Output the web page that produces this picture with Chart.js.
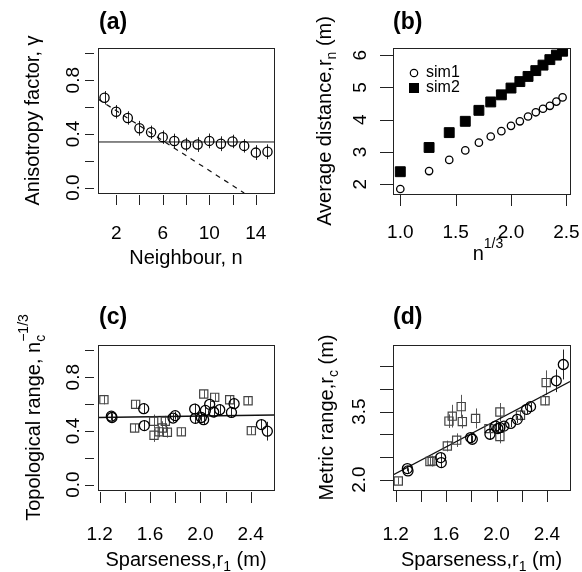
<!DOCTYPE html>
<html lang="en">
<head>
  <meta charset="UTF-8">
  <title>Anisotropy and range panels</title>
  <script src="https://cdn.jsdelivr.net/npm/chart.js"></script>
  <style>
    body { margin: 0; padding: 0; background: #ffffff; }
    #wrap { position: relative; width: 582px; height: 572px; }
    #wrap canvas { position: absolute; }
  </style>
</head>
<body>

<div id="wrap">
  <canvas id="panelA" width="291" height="286" style="left:0;top:0"></canvas>
  <canvas id="panelB" width="291" height="286" style="left:291px;top:0"></canvas>
  <canvas id="panelC" width="291" height="286" style="left:0;top:286px"></canvas>
  <canvas id="panelD" width="291" height="286" style="left:291px;top:286px"></canvas>
</div>

<script>
  // ---- panel (a): anisotropy factor vs neighbour
  const neighbourN = [1, 2, 3, 4, 5, 6, 7, 8, 9, 10, 11, 12, 13, 14, 15];
  const anisotropy = [0.669, 0.565, 0.519, 0.442, 0.412, 0.376, 0.347, 0.321, 0.321, 0.348, 0.327, 0.344, 0.311, 0.261, 0.267];
  const anisotropyErr = [0.05, 0.05, 0.05, 0.055, 0.05, 0.05, 0.055, 0.05, 0.055, 0.055, 0.055, 0.05, 0.05, 0.055, 0.055];
  const anisotropyLevel = 0.34;
  const anisotropyTrendX = [0.44, 13.0];
  const anisotropyTrendY = [0.66, -0.04];

  // ---- panel (b): average distance vs n^(1/3)
  const cubeRootN = [1.000, 1.260, 1.442, 1.587, 1.710, 1.817, 1.913, 2.000, 2.080, 2.154, 2.224, 2.289, 2.351, 2.410, 2.466];
  const sim1Dist = [1.855, 2.41, 2.756, 3.05, 3.29, 3.48, 3.646, 3.81, 3.95, 4.10, 4.23, 4.34, 4.43, 4.56, 4.69];
  const sim2Dist = [2.39, 3.14, 3.60, 3.95, 4.29, 4.55, 4.77, 4.98, 5.18, 5.34, 5.52, 5.69, 5.86, 6.00, 6.12];

  // ---- panel (c): topological range vs sparseness
  const topoCircX = [1.293, 1.298, 1.55, 1.555, 1.783, 1.80, 1.955, 1.96, 2.008, 2.026, 2.04, 2.074, 2.106, 2.154, 2.247, 2.268, 2.485, 2.532];
  const topoCircY = [0.51, 0.50, 0.566, 0.44, 0.496, 0.514, 0.563, 0.494, 0.50, 0.484, 0.553, 0.598, 0.541, 0.558, 0.538, 0.603, 0.447, 0.398];
  const topoCircErr = [0.03, 0.03, 0.04, 0.04, 0.03, 0.03, 0.04, 0.04, 0.03, 0.04, 0.04, 0.04, 0.04, 0.04, 0.04, 0.04, 0.04, 0.07];
  const topoSqX = [1.234, 1.486, 1.478, 1.629, 1.632, 1.672, 1.698, 1.722, 1.738, 1.849, 2.027, 2.114, 2.233, 2.379, 2.405];
  const topoSqY = [0.633, 0.598, 0.422, 0.472, 0.368, 0.393, 0.422, 0.472, 0.39, 0.393, 0.675, 0.65, 0.632, 0.625, 0.402];
  const topoSqErr = [0.035, 0.03, 0.03, 0.05, 0.05, 0.04, 0.05, 0.04, 0.04, 0.03, 0.03, 0.03, 0.03, 0.03, 0.03];
  const topoFitX = [1.187, 2.585];
  const topoFitY = [0.500, 0.518];

  // ---- panel (d): metric range vs sparseness
  const metricCircX = [1.293, 1.298, 1.557, 1.562, 1.795, 1.808, 1.948, 1.993, 2.011, 2.027, 2.059, 2.112, 2.165, 2.239, 2.27, 2.474, 2.53];
  const metricCircY = [2.243, 2.19, 2.485, 2.375, 2.926, 2.89, 3.0, 3.18, 3.125, 3.147, 3.18, 3.24, 3.33, 3.55, 3.61, 4.18, 4.54];
  const metricCircErr = [0.06, 0.06, 0.1, 0.12, 0.1, 0.08, 0.12, 0.1, 0.12, 0.1, 0.08, 0.08, 0.08, 0.1, 0.08, 0.25, 0.33];
  const metricSqX = [1.221, 1.472, 1.49, 1.61, 1.623, 1.649, 1.684, 1.72, 1.729, 1.834, 1.94, 2.027, 2.027, 2.19, 2.385, 2.394];
  const metricSqY = [1.97, 2.40, 2.41, 2.74, 3.29, 3.40, 2.87, 3.61, 3.28, 3.35, 3.125, 3.49, 2.95, 3.42, 3.74, 4.14];
  const metricSqErr = [0.08, 0.1, 0.12, 0.12, 0.15, 0.25, 0.15, 0.26, 0.15, 0.22, 0.1, 0.2, 0.15, 0.12, 0.1, 0.27];
  const metricFitX = [1.179, 2.583];
  const metricFitY = [2.10, 4.165];

  const FONT = '"Liberation Sans", Arial, sans-serif';
  const W = 291, H = 286;

  const pts = (xs, ys) => xs.map((x, i) => ({ x: x, y: ys[i] }));

  // text with sub/superscripts: parts = [text, kind, extra]
  function partWidth(ctx, p, fs) {
    if (!p[1]) { ctx.font = fs + 'px ' + FONT; return ctx.measureText(p[0]).width; }
    ctx.font = Math.round(fs * 0.7) + 'px ' + FONT;
    if (p[1] === 'bp') return Math.max(ctx.measureText(p[0]).width, ctx.measureText(p[2]).width);
    return ctx.measureText(p[0]).width;
  }

  function drawRich(ctx, parts, cx, cy, fs) {
    const ws = parts.map(p => partWidth(ctx, p, fs));
    let x = cx - ws.reduce((a, b) => a + b, 0) / 2;
    const base = cy + fs * 0.35;
    const small = Math.round(fs * 0.7) + 'px ' + FONT;
    ctx.textAlign = 'left';
    ctx.textBaseline = 'alphabetic';
    parts.forEach((p, i) => {
      if (!p[1]) { ctx.font = fs + 'px ' + FONT; ctx.fillText(p[0], x, base); }
      else if (p[1] === 'b') { ctx.font = small; ctx.fillText(p[0], x, base + fs * 0.25); }
      else if (p[1] === 'p') { ctx.font = small; ctx.fillText(p[0], x, base - fs * 0.6); }
      else { ctx.font = small; ctx.fillText(p[0], x, base + fs * 0.25); ctx.fillText(p[2], x, base - fs * 0.6); }
      x += ws[i];
    });
  }

  // R style axes, box, error bars and legend
  const rAxes = {
    id: 'rAxes',
    beforeDatasetsDraw(chart, args, o) {
      const ctx = chart.ctx, sx = chart.scales.x, sy = chart.scales.y, a = chart.chartArea;
      ctx.save();
      ctx.beginPath();
      ctx.rect(a.left, a.top, a.right - a.left, a.bottom - a.top);
      ctx.clip();
      (o.errors || []).forEach(e => {
        ctx.strokeStyle = e.color;
        ctx.lineWidth = 1;
        ctx.beginPath();
        e.x.forEach((xv, i) => {
          const px = Math.round(sx.getPixelForValue(xv)) + 0.5;
          ctx.moveTo(px, sy.getPixelForValue(e.y[i] - e.e[i]));
          ctx.lineTo(px, sy.getPixelForValue(e.y[i] + e.e[i]));
        });
        ctx.stroke();
      });
      ctx.restore();
    },
    afterDraw(chart, args, o) {
      const ctx = chart.ctx, sx = chart.scales.x, sy = chart.scales.y, a = chart.chartArea;
      ctx.save();
      ctx.strokeStyle = '#222';
      ctx.lineWidth = 1;
      ctx.strokeRect(Math.round(a.left) + 0.5, Math.round(a.top) + 0.5,
        Math.round(a.right - a.left), Math.round(a.bottom - a.top));

      ctx.beginPath();
      o.yTicks.forEach(v => {
        const py = Math.round(sy.getPixelForValue(v)) + 0.5;
        ctx.moveTo(o.yTickX[0], py);
        ctx.lineTo(o.yTickX[1], py);
      });
      o.xTicks.forEach(v => {
        const px = Math.round(sx.getPixelForValue(v)) + 0.5;
        ctx.moveTo(px, o.xTickY[0]);
        ctx.lineTo(px, o.xTickY[1]);
      });
      ctx.stroke();

      ctx.fillStyle = '#000';
      o.yLabels.forEach(v => {
        ctx.save();
        ctx.translate(o.yLabelX, sy.getPixelForValue(v));
        ctx.rotate(-Math.PI / 2);
        drawRich(ctx, [[v.toFixed(o.yDec), '']], 0, 0, 19);
        ctx.restore();
      });
      o.xLabels.forEach(v => {
        drawRich(ctx, [[v.toFixed(o.xDec), '']], sx.getPixelForValue(v), o.xLabelY, 19);
      });

      // axis titles
      drawRich(ctx, o.xTitle, o.xTitleX || (a.left + a.right) / 2, o.xTitleY, 20);
      ctx.save();
      ctx.translate(o.yTitleX, (a.top + a.bottom) / 2);
      ctx.rotate(-Math.PI / 2);
      drawRich(ctx, o.yTitle, 0, 0, 20);
      ctx.restore();

      // panel letter
      ctx.font = 'bold 23px ' + FONT;
      ctx.textAlign = 'left';
      ctx.textBaseline = 'middle';
      ctx.fillText(o.letter, o.letterX, o.letterY);

      if (o.legend) {
        o.legend.forEach(l => {
          ctx.strokeStyle = '#000';
          ctx.fillStyle = '#000';
          if (l.shape === 'circle') {
            ctx.lineWidth = 1.2;
            ctx.beginPath();
            ctx.arc(l.x, l.y, 3.7, 0, Math.PI * 2);
            ctx.stroke();
          } else {
            ctx.fillRect(l.x - 5, l.y - 5, 10, 10);
          }
          ctx.font = '16px ' + FONT;
          ctx.textBaseline = 'middle';
          ctx.fillText(l.text, l.x + 12, l.y);
        });
      }
      ctx.restore();
    }
  };

  function makePanel(id, datasets, xr, yr, box, ax) {
    return new Chart(document.getElementById(id), {
      type: 'scatter',
      data: { datasets: datasets },
      options: {
        responsive: false,
        animation: false,
        events: [],
        layout: { padding: { left: 0, top: box.t, right: W - box.r, bottom: 0 } },
        plugins: { legend: { display: false }, tooltip: { enabled: false }, rAxes: ax },
        scales: {
          x: {
            type: 'linear', min: xr[0], max: xr[1],
            ticks: { display: false }, grid: { display: false }, border: { display: false },
            afterFit: s => { s.height = H - box.b; }
          },
          y: {
            type: 'linear', min: yr[0], max: yr[1],
            ticks: { display: false }, grid: { display: false }, border: { display: false },
            afterFit: s => { s.width = box.l; }
          }
        }
      },
      plugins: [rAxes]
    });
  }

  const lineSet = (xs, ys, extra) => Object.assign({
    data: pts(xs, ys), showLine: true, pointRadius: 0,
    borderColor: '#111', borderWidth: 1.2, fill: false
  }, extra || {});
  const circleSet = (xs, ys, r, color) => ({
    data: pts(xs, ys), pointStyle: 'circle', pointRadius: r,
    pointBorderColor: color, pointBackgroundColor: 'rgba(0,0,0,0)', pointBorderWidth: 1.3
  });
  const squareSet = (xs, ys, r, color, fill, bw) => ({
    data: pts(xs, ys), pointStyle: 'rect', pointRadius: r,
    pointBorderColor: color, pointBackgroundColor: fill, pointBorderWidth: bw
  });

  // (a)
  makePanel('panelA', [
    circleSet(neighbourN, anisotropy, 4.6, '#000'),
    lineSet([0.44, 15.56], [anisotropyLevel, anisotropyLevel], { borderWidth: 1 }),
    lineSet(anisotropyTrendX, anisotropyTrendY, { borderDash: [5, 5] })
  ], [0.44, 15.56], [-0.04, 1.04], { l: 98, t: 48, r: 274, b: 193 }, {
    errors: [{ x: neighbourN, y: anisotropy, e: anisotropyErr, color: '#222' }],
    yTicks: [0, 0.2, 0.4, 0.6, 0.8, 1.0], yLabels: [0, 0.4, 0.8], yDec: 1,
    xTicks: [2, 4, 6, 8, 10, 12, 14], xLabels: [2, 6, 10, 14], xDec: 0,
    yTickX: [85, 94], yLabelX: 72, xTickY: [195, 205], xLabelY: 232,
    xTitle: [['Neighbour, n', '']], xTitleY: 257,
    yTitle: [['Anisotropy factor, γ', '']], yTitleX: 32,
    letter: '(a)', letterX: 99, letterY: 23
  });

  // (b)
  makePanel('panelB', [
    circleSet(cubeRootN, sim1Dist, 3.7, '#000'),
    squareSet(cubeRootN, sim2Dist, 7, '#000', '#000', 1)
  ], [0.934, 2.533], [1.70, 6.22], { l: 102, t: 48, r: 279, b: 194 }, {
    yTicks: [2, 3, 4, 5, 6], yLabels: [2, 3, 4, 5, 6], yDec: 0,
    xTicks: [1.0, 1.5, 2.0, 2.5], xLabels: [1.0, 1.5, 2.0, 2.5], xDec: 1,
    yTickX: [89, 102], yLabelX: 68, xTickY: [194, 206], xLabelY: 231,
    xTitle: [['n', ''], ['1/3', 'p']], xTitleY: 253, xTitleX: 197,
    yTitle: [['Average distance,r', ''], ['n', 'b'], [' (m)', '']], yTitleX: 33,
    letter: '(b)', letterX: 102, letterY: 23,
    legend: [
      { shape: 'circle', x: 123, y: 73, text: 'sim1' },
      { shape: 'square', x: 123, y: 88, text: 'sim2' }
    ]
  });

  // (c)
  makePanel('panelC', [
    circleSet(topoCircX, topoCircY, 5, '#000'),
    squareSet(topoSqX, topoSqY, 5.8, '#444', 'rgba(0,0,0,0)', 1.2),
    lineSet(topoFitX, topoFitY, { borderWidth: 1.5 })
  ], [1.187, 2.585], [-0.04, 1.04], { l: 98, t: 59, r: 274, b: 204 }, {
    errors: [
      { x: topoCircX, y: topoCircY, e: topoCircErr, color: '#222' },
      { x: topoSqX, y: topoSqY, e: topoSqErr, color: '#555' }
    ],
    yTicks: [0, 0.2, 0.4, 0.6, 0.8, 1.0], yLabels: [0, 0.4, 0.8], yDec: 1,
    xTicks: [1.2, 1.4, 1.6, 1.8, 2.0, 2.2, 2.4], xLabels: [1.2, 1.6, 2.0, 2.4], xDec: 1,
    yTickX: [85, 94], yLabelX: 72, xTickY: [206, 217], xLabelY: 247,
    xTitle: [['Sparseness,r', ''], ['1', 'b'], [' (m)', '']], xTitleY: 273,
    yTitle: [['Topological range, n', ''], ['c', 'bp', '−1/3']], yTitleX: 33,
    letter: '(c)', letterX: 99, letterY: 32
  });

  // (d)
  makePanel('panelD', [
    circleSet(metricCircX, metricCircY, 5, '#000'),
    squareSet(metricSqX, metricSqY, 5.8, '#444', 'rgba(0,0,0,0)', 1.2),
    lineSet(metricFitX, metricFitY, { borderWidth: 1.3 })
  ], [1.179, 2.583], [1.77, 4.97], { l: 102, t: 59, r: 279, b: 204 }, {
    errors: [
      { x: metricCircX, y: metricCircY, e: metricCircErr, color: '#222' },
      { x: metricSqX, y: metricSqY, e: metricSqErr, color: '#555' }
    ],
    yTicks: [2.0, 2.5, 3.0, 3.5, 4.0, 4.5], yLabels: [2.0, 3.5], yDec: 1,
    xTicks: [1.2, 1.4, 1.6, 1.8, 2.0, 2.2, 2.4], xLabels: [1.2, 1.6, 2.0, 2.4], xDec: 1,
    yTickX: [89, 102], yLabelX: 67, xTickY: [204, 216], xLabelY: 247,
    xTitle: [['Sparseness,r', ''], ['1', 'b'], [' (m)', '']], xTitleY: 273,
    yTitle: [['Metric range,r', ''], ['c', 'b'], [' (m)', '']], yTitleX: 35,
    letter: '(d)', letterX: 102, letterY: 32
  });
</script>

</body>
</html>
